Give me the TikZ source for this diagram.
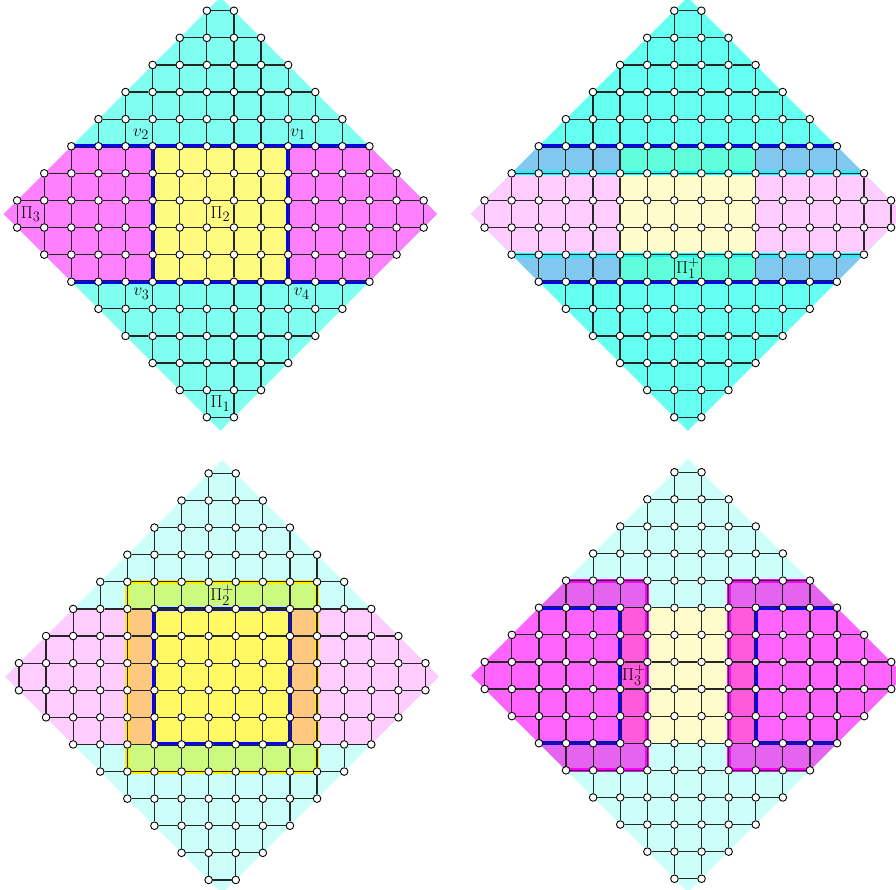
\documentclass[tikz,border=0pt]{standalone}
\pgfdeclarelayer{bg}
\pgfsetlayers{bg,main}
\definecolor{cA}{RGB}{128,255,240}
\definecolor{mA}{RGB}{255,128,255}
\definecolor{yA}{RGB}{255,250,128}
\definecolor{cB}{RGB}{100,255,240}
\definecolor{bB}{RGB}{128,200,240}
\definecolor{gB}{RGB}{96,255,220}
\definecolor{pB}{RGB}{255,204,255}
\definecolor{lyB}{RGB}{255,252,204}
\definecolor{lcC}{RGB}{204,255,250}
\definecolor{gyC}{RGB}{204,250,128}
\definecolor{oC}{RGB}{255,200,128}
\definecolor{yC}{RGB}{255,250,100}
\definecolor{ylC}{RGB}{255,235,0}
\definecolor{mD}{RGB}{255,100,255}
\definecolor{puD}{RGB}{228,100,240}
\definecolor{pkD}{RGB}{255,90,220}
\definecolor{hlblue}{RGB}{0,0,255}
\definecolor{hlcyan}{RGB}{0,255,255}
\definecolor{hlmag}{RGB}{255,0,255}
\tikzset{
  vtx/.style={circle,draw=black,fill=white,line width=0.9pt,inner sep=0pt,minimum size=7.6pt},
  edge/.style={draw=black!85,line width=1.2pt},
  hl/.style={line width=4pt},
  lab/.style={inner sep=0pt,font=\fontsize{19}{22}\selectfont},
}
\newcommand\gridpanel[1]{%
  \foreach \i in {0,...,15}{\foreach \j in {0,...,15}{%
    \pgfmathtruncatemacro\ok{abs(\i-7.5)+abs(\j-7.5)<8.1}%
    \ifnum\ok=1 \node[vtx] (#1-\i-\j) at (\i-7.5,\j-7.5) {};\fi
  }}%
  \foreach \i in {0,...,14}{\foreach \j in {0,...,15}{%
    \pgfmathtruncatemacro\ok{max(abs(\i-7.5),abs(\i-6.5))+abs(\j-7.5)<8.1}%
    \pgfmathtruncatemacro\nx{\i+1}%
    \ifnum\ok=1
      \draw[edge] (#1-\i-\j) -- (#1-\nx-\j);
      \draw[edge] (#1-\j-\i) -- (#1-\j-\nx);
    \fi
  }}%
}
\begin{document}
\begin{tikzpicture}
\useasboundingbox (0,0) rectangle (896pt,890pt);
\clip (0,0) rectangle (896pt,890pt);

% ---------------- Panel A (top left)
\begin{scope}[shift={(220.4pt,676pt)},x=27.1pt,y=27.1pt]
\gridpanel{A}
\begin{pgfonlayer}{bg}
  \fill[cA] (8,0)--(0,8)--(-8,0)--(0,-8)--cycle;
  \begin{scope}
    \clip (8,0)--(0,8)--(-8,0)--(0,-8)--cycle;
    \fill[mA] (-9,-2.5) rectangle (9,2.5);
  \end{scope}
  \fill[yA] (-2.5,-2.5) rectangle (2.5,2.5);
  \draw[hl,hlblue] (A-2-10.center) -- (A-13-10.center);
  \draw[hl,hlblue] (A-2-5.center) -- (A-13-5.center);
  \draw[hl,hlblue] (A-5-5.center) -- (A-5-10.center);
  \draw[hl,hlblue] (A-10-5.center) -- (A-10-10.center);
\end{pgfonlayer}
\node[lab] (v2) at (-2.93,2.93) {$v_2$};
\node[lab] (v1) at (2.87,2.93) {$v_1$};
\node[lab] (v3) at (-2.91,-2.95) {$v_3$};
\node[lab] (v4) at (3.0,-2.95) {$v_4$};
\node[lab] (piA3) at (-7,0) {$\Pi_3$};
\node[lab] (piA2) at (0,0) {$\Pi_2$};
\node[lab] (piA1) at (0,-7) {$\Pi_1$};
\end{scope}

% ---------------- Panel B (top right)
\begin{scope}[shift={(687.8pt,676pt)},x=27.1pt,y=27.1pt]
\gridpanel{B}
\begin{pgfonlayer}{bg}
  \fill[cB] (8,0)--(0,8)--(-8,0)--(0,-8)--cycle;
  \begin{scope}
    \clip (8,0)--(0,8)--(-8,0)--(0,-8)--cycle;
    \fill[bB] (-9,1.5) rectangle (9,2.5);
    \fill[bB] (-9,-2.5) rectangle (9,-1.5);
    \fill[pB] (-9,-1.5) rectangle (9,1.5);
  \end{scope}
  \fill[gB] (-2.5,1.5) rectangle (2.5,2.5);
  \fill[gB] (-2.5,-2.5) rectangle (2.5,-1.5);
  \fill[lyB] (-2.5,-1.5) rectangle (2.5,1.5);
  \draw[hl,hlblue] (B-2-10.center) -- (B-13-10.center);
  \draw[hl,hlblue] (B-2-5.center) -- (B-13-5.center);
  \draw[hl,hlcyan] (B-1-9.center) -- (B-14-9.center);
  \draw[hl,hlcyan] (B-1-6.center) -- (B-14-6.center);
\end{pgfonlayer}
\node[lab] (piB1) at (0,-2) {$\Pi_1^+$};
\end{scope}

% ---------------- Panel C (bottom left)
\begin{scope}[shift={(222.2pt,213.3pt)},x=27.1pt,y=27.1pt]
\gridpanel{C}
\begin{pgfonlayer}{bg}
  \fill[lcC] (8,0)--(0,8)--(-8,0)--(0,-8)--cycle;
  \begin{scope}
    \clip (8,0)--(0,8)--(-8,0)--(0,-8)--cycle;
    \fill[pB] (-9,-2.5) rectangle (9,2.5);
  \end{scope}
  \fill[gyC] (-3.5,-3.5) rectangle (3.5,3.5);
  \fill[oC] (-3.5,-2.5) rectangle (-2.5,2.5);
  \fill[oC] (2.5,-2.5) rectangle (3.5,2.5);
  \fill[yC] (-2.5,-2.5) rectangle (2.5,2.5);
  \draw[hl,ylC] (C-4-4.center) -- (C-11-4.center) -- (C-11-11.center) -- (C-4-11.center) -- cycle;
  \draw[hl,hlblue] (C-5-5.center) -- (C-10-5.center) -- (C-10-10.center) -- (C-5-10.center) -- cycle;
\end{pgfonlayer}
\node[lab] (piC2) at (0,3) {$\Pi_2^+$};
\end{scope}

% ---------------- Panel D (bottom right)
\begin{scope}[shift={(688pt,214.5pt)},x=27.1pt,y=27.1pt]
\gridpanel{D}
\begin{pgfonlayer}{bg}
  \fill[lcC] (8,0)--(0,8)--(-8,0)--(0,-8)--cycle;
  \begin{scope}
    \clip (8,0)--(0,8)--(-8,0)--(0,-8)--cycle;
    \fill[puD] (-9,2.5) rectangle (-1.5,3.5);
    \fill[puD] (-9,-3.5) rectangle (-1.5,-2.5);
    \fill[mD] (-9,-2.5) rectangle (-2.5,2.5);
    \fill[puD] (1.5,2.5) rectangle (9,3.5);
    \fill[puD] (1.5,-3.5) rectangle (9,-2.5);
    \fill[mD] (2.5,-2.5) rectangle (9,2.5);
  \end{scope}
  \fill[pkD] (-2.5,-2.5) rectangle (-1.5,2.5);
  \fill[pkD] (1.5,-2.5) rectangle (2.5,2.5);
  \fill[lyB] (-1.5,-2.5) rectangle (1.5,2.5);
  \draw[hl,hlmag] (D-3-11.center) -- (D-6-11.center) -- (D-6-4.center) -- (D-3-4.center);
  \draw[hl,hlmag] (D-12-11.center) -- (D-9-11.center) -- (D-9-4.center) -- (D-12-4.center);
  \draw[hl,hlblue] (D-2-10.center) -- (D-5-10.center) -- (D-5-5.center) -- (D-2-5.center);
  \draw[hl,hlblue] (D-13-10.center) -- (D-10-10.center) -- (D-10-5.center) -- (D-13-5.center);
\end{pgfonlayer}
\node[lab] (piD3) at (-2,0) {$\Pi_3^+$};
\end{scope}
\end{tikzpicture}
\end{document}
